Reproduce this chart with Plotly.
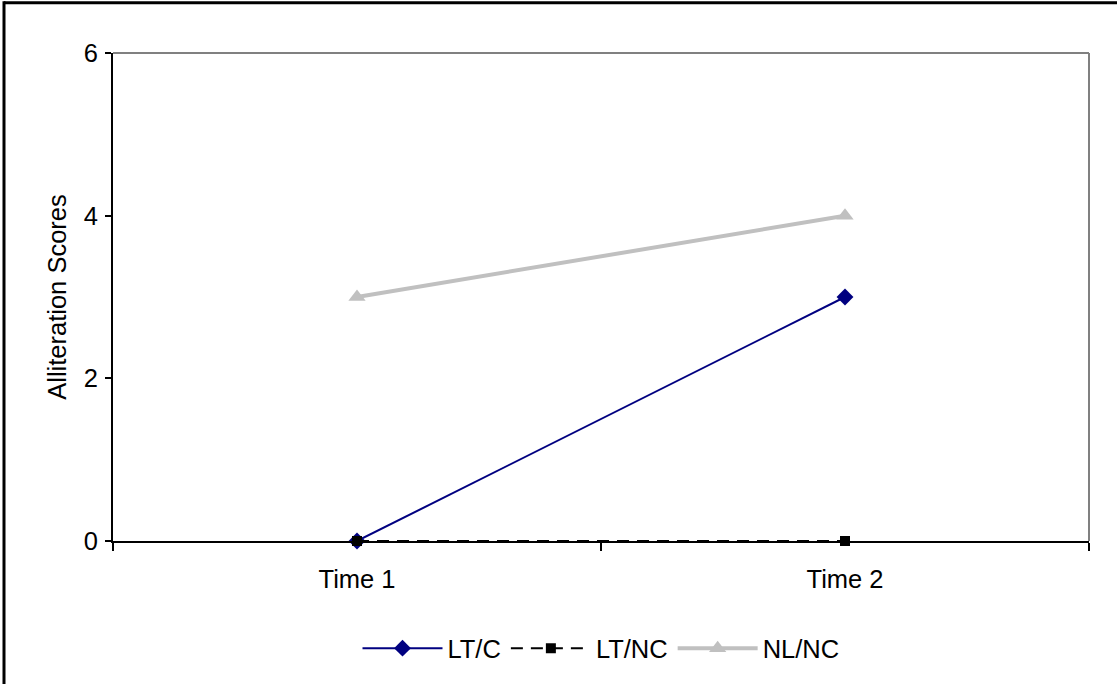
import plotly.graph_objects as go

categories = ["Time 1", "Time 2"]
lt_c = [0, 3]
lt_nc = [0, 0]
nl_nc = [3, 4]
y_ticks = [0, 2, 4, 6]

W, H = 1117, 684
L, R, T, B = 113, 28, 53, 141
pw, ph = W - L - R, H - T - B

fig = go.Figure()
fig.add_trace(go.Scatter(x=categories, y=lt_c, name="LT/C", mode="lines+markers",
                         line=dict(color="#000080", width=2),
                         marker=dict(symbol="diamond", size=13, color="#000080"),
                         cliponaxis=False))
fig.add_trace(go.Scatter(x=categories, y=lt_nc, name="LT/NC", mode="lines+markers",
                         line=dict(color="#000000", width=2, dash="12px,8px"),
                         marker=dict(symbol="square", size=10, color="#000000"),
                         cliponaxis=False))
fig.add_trace(go.Scatter(x=categories, y=nl_nc, name="NL/NC", mode="lines+markers",
                         line=dict(color="#C0C0C0", width=4),
                         marker=dict(symbol="triangle-up", size=15, color="#C0C0C0"),
                         cliponaxis=False))

font = dict(family="Liberation Sans, Arial, sans-serif", size=25.5, color="#000000")

fig.update_layout(
    width=W, height=H,
    margin=dict(l=L, r=R, t=T, b=B, pad=0),
    paper_bgcolor="white", plot_bgcolor="white",
    font=font,
    showlegend=True,
    legend=dict(orientation="h", x=0.5, xanchor="center", y=(543 - 651) / ph,
                yanchor="middle", font=font, bgcolor="rgba(0,0,0,0)",
                itemwidth=80, tracegroupgap=0),
    xaxis=dict(type="category", range=[-0.5, 1.5], showgrid=False, zeroline=False,
               showline=True, linecolor="black", linewidth=2,
               ticks="outside", tickson="boundaries", ticklen=8, tickwidth=2,
               tickcolor="black", tickfont=font, ticklabelstandoff=14),
    yaxis=dict(range=[0, 6], tickvals=y_ticks, showgrid=False, zeroline=False,
               showline=True, linecolor="black", linewidth=2,
               ticks="outside", ticklen=6, tickwidth=2, tickcolor="black",
               tickfont=font, ticklabelstandoff=2,
               title=dict(text="Alliteration Scores", font=font, standoff=10)),
    shapes=[
        # gray top & right border of plot area
        dict(type="line", xref="paper", yref="paper", x0=0, x1=1, y0=1, y1=1,
             line=dict(color="#808080", width=2)),
        dict(type="line", xref="paper", yref="paper", x0=1, x1=1, y0=0, y1=1,
             line=dict(color="#808080", width=2)),
        # outer chart border (top and left visible)
        dict(type="line", xref="paper", yref="paper",
             x0=(4 - L) / pw, x1=(W + 10 - L) / pw,
             y0=1 + (T - 2.5) / ph, y1=1 + (T - 2.5) / ph,
             line=dict(color="black", width=3)),
        dict(type="line", xref="paper", yref="paper",
             x0=(4 - L) / pw, x1=(4 - L) / pw,
             y0=1 + (T - 1) / ph, y1=-(H + 10 - T - ph) / ph,
             line=dict(color="black", width=3)),
    ],
)

fig.write_html("out.html")
